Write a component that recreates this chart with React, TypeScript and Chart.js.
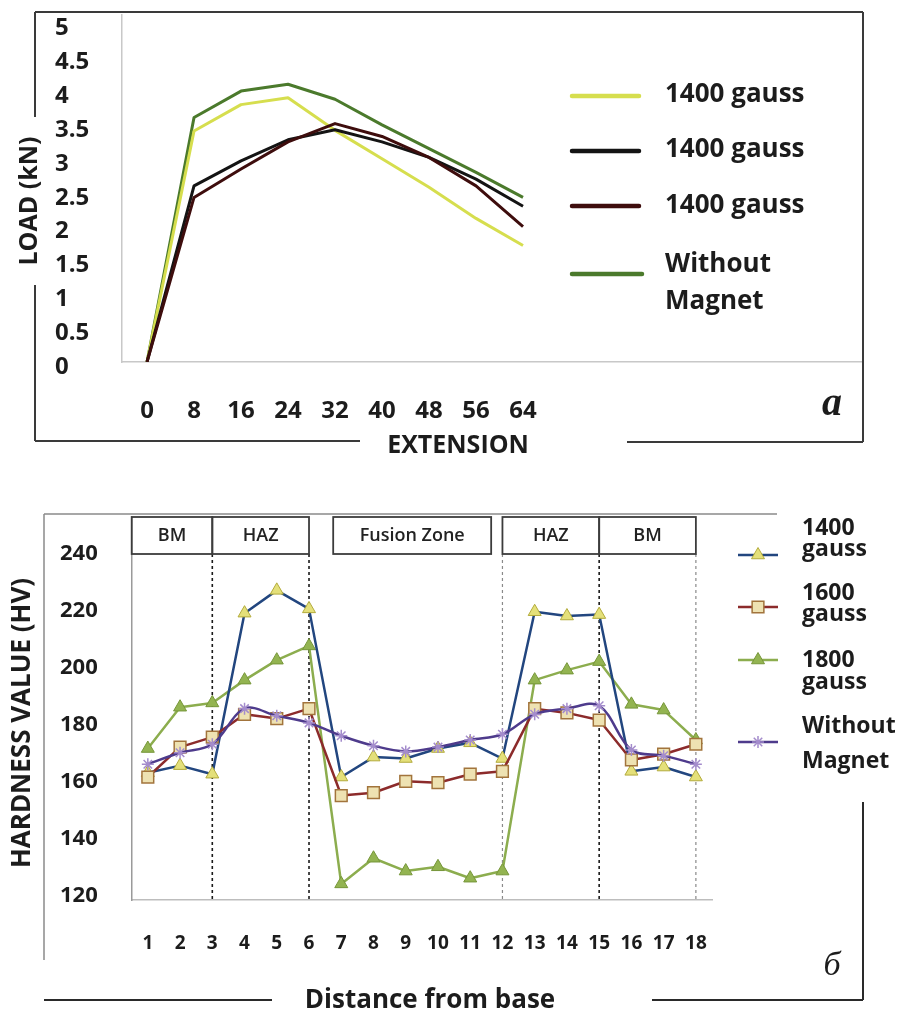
import React, { useEffect, useRef } from 'react';
import { Chart, registerables } from 'chart.js';

Chart.register(...registerables);

// ---------- Chart a : load vs extension ----------
const extension = [0, 8, 16, 24, 32, 40, 48, 56, 64];
const loadYellow = [0, 3.41, 3.8, 3.9, 3.42, 3.0, 2.58, 2.12, 1.72];
const loadBlack = [0, 2.6, 2.97, 3.28, 3.43, 3.25, 3.02, 2.7, 2.3];
const loadMaroon = [0, 2.43, 2.85, 3.25, 3.52, 3.33, 3.02, 2.6, 2.0];
const loadGreen = [0, 3.61, 4.0, 4.1, 3.88, 3.5, 3.15, 2.8, 2.43];
const loadTicks = [0, 0.5, 1, 1.5, 2, 2.5, 3, 3.5, 4, 4.5, 5];
const topLegend = [['1400 gauss'], ['1400 gauss'], ['1400 gauss'], ['Without', 'Magnet']];

// ---------- Chart б : hardness vs distance ----------
const positions = ['1', '2', '3', '4', '5', '6', '7', '8', '9', '10', '11', '12', '13', '14', '15', '16', '17', '18'];
const hv1400 = [163, 165.5, 162.5, 219, 227, 220.5, 161.5, 168.5, 168, 171.5, 173.5, 168, 219.5, 218, 218.5, 163.5, 165, 161.5];
const hv1600 = [161.5, 172, 175.5, 183.5, 182, 185.5, 155, 156, 160, 159.5, 162.5, 163.5, 185.5, 184, 181.5, 167.5, 169.5, 173];
const hv1800 = [171.5, 186, 187.5, 195.5, 202.5, 207.5, 124, 133, 128.5, 130, 126, 128.5, 195.5, 199, 202, 187, 185, 174.5];
const hvNone = [166, 170, 173, 185.5, 183, 180.5, 176, 172.5, 170.5, 172, 174.5, 176.5, 183.5, 185.5, 186.5, 171, 169, 166];
const hvTicks = [120, 140, 160, 180, 200, 220, 240];
const botLegend = [['1400', 'gauss'], ['1600', 'gauss'], ['1800', 'gauss'], ['Without', 'Magnet']];
const zoneNames = ['BM', 'HAZ', 'Fusion Zone', 'HAZ', 'BM'];
const zoneFrom = [0.5, 3, 6.75, 12, 15];
const zoneTo = [3, 6, 11.65, 15, 18];
const boundaryAt = [3, 6, 12, 15, 18];

const FONT = '"Open Sans", "DejaVu Sans", sans-serif';
const SERIF = '"Liberation Serif", "DejaVu Serif", serif';
const TEXT = '#1c1c1c';

const TOP_H = 470;
const BOT_OFF = 470;
const BOT_H = 539;

function line(ctx: CanvasRenderingContext2D, x0: number, y0: number, x1: number, y1: number) {
  ctx.beginPath();
  ctx.moveTo(x0, y0);
  ctx.lineTo(x1, y1);
  ctx.stroke();
}

function marker(ctx: CanvasRenderingContext2D, style: string, x: number, y: number, r: number, fill: string, stroke: string, lw: number) {
  ctx.save();
  ctx.fillStyle = fill;
  ctx.strokeStyle = stroke;
  ctx.lineWidth = lw;
  ctx.setLineDash([]);
  ctx.beginPath();
  if (style === 'triangle') {
    ctx.moveTo(x, y - r);
    ctx.lineTo(x + 0.866 * r, y + 0.5 * r);
    ctx.lineTo(x - 0.866 * r, y + 0.5 * r);
    ctx.closePath();
    ctx.fill();
    ctx.stroke();
  } else if (style === 'rect') {
    const s = r * Math.SQRT1_2;
    ctx.rect(x - s, y - s, 2 * s, 2 * s);
    ctx.fill();
    ctx.stroke();
  } else {
    const o = r * Math.SQRT1_2;
    ctx.moveTo(x - o, y - o); ctx.lineTo(x + o, y + o);
    ctx.moveTo(x + o, y - o); ctx.lineTo(x - o, y + o);
    ctx.moveTo(x, y - r); ctx.lineTo(x, y + r);
    ctx.moveTo(x - r, y); ctx.lineTo(x + r, y);
    ctx.stroke();
  }
  ctx.restore();
}

const topDecor = {
  id: 'topDecor',
  afterDraw(chart: any) {
    const ctx: CanvasRenderingContext2D = chart.ctx;
    ctx.save();
    // frame
    ctx.strokeStyle = '#3a3a3a';
    ctx.lineWidth = 2;
    line(ctx, 35, 12, 863, 12);
    line(ctx, 35, 12, 35, 117);
    line(ctx, 35, 285, 35, 441);
    line(ctx, 35, 441, 360, 441);
    line(ctx, 627, 442, 863, 442);
    line(ctx, 863, 12, 863, 442);
    // axis titles
    ctx.fillStyle = TEXT;
    ctx.font = `bold 25px ${FONT}`;
    ctx.textAlign = 'center';
    ctx.textBaseline = 'alphabetic';
    ctx.fillText('EXTENSION', 458, 453);
    ctx.save();
    ctx.translate(37, 201);
    ctx.rotate(-Math.PI / 2);
    ctx.fillText('LOAD (kN)', 0, 0);
    ctx.restore();
    // legend
    const sampleY = [96, 151, 206, 274];
    const textY = [[101.5], [156.5], [213], [271.5, 308.5]];
    ctx.font = `bold 26px ${FONT}`;
    ctx.textAlign = 'left';
    chart.data.datasets.forEach((ds: any, i: number) => {
      ctx.strokeStyle = ds.borderColor;
      ctx.lineWidth = 4.5;
      ctx.lineCap = 'round';
      line(ctx, 572, sampleY[i], i === 3 ? 642 : 639, sampleY[i]);
      ctx.fillStyle = TEXT;
      topLegend[i].forEach((t, k) => ctx.fillText(t, 665, textY[i][k]));
    });
    // panel letter
    ctx.font = `italic bold 40px ${SERIF}`;
    ctx.textAlign = 'center';
    ctx.fillText('a', 832, 415);
    ctx.restore();
  },
};

const botDecor = {
  id: 'botDecor',
  beforeDatasetsDraw(chart: any) {
    const ctx: CanvasRenderingContext2D = chart.ctx;
    const xs = chart.scales.x;
    const area = chart.chartArea;
    const boxTop = area.top;
    const boxBottom = area.top + 37;
    const dashColor = ['#1a1a1a', '#1a1a1a', '#8a8a8a', '#1a1a1a', '#8a8a8a'];
    const dashWidth = [1.6, 1.6, 1.2, 1.6, 1.2];
    ctx.save();
    boundaryAt.forEach((b, i) => {
      const px = xs.getPixelForValue(b - 1);
      ctx.strokeStyle = dashColor[i];
      ctx.lineWidth = dashWidth[i];
      ctx.setLineDash([3, 3]);
      line(ctx, px, boxBottom, px, area.bottom);
    });
    ctx.setLineDash([]);
    ctx.strokeStyle = '#3c3c3c';
    ctx.lineWidth = 1.8;
    ctx.font = `600 18px ${FONT}`;
    ctx.fillStyle = '#222222';
    ctx.textAlign = 'center';
    ctx.textBaseline = 'middle';
    zoneNames.forEach((name, i) => {
      const x0 = xs.getPixelForValue(zoneFrom[i] - 1);
      const x1 = xs.getPixelForValue(zoneTo[i] - 1);
      ctx.strokeRect(x0, boxTop, x1 - x0, boxBottom - boxTop);
      ctx.fillText(name, (x0 + x1) / 2, (boxTop + boxBottom) / 2);
    });
    ctx.restore();
  },
  afterDraw(chart: any) {
    const ctx: CanvasRenderingContext2D = chart.ctx;
    const o = BOT_OFF;
    ctx.save();
    // frame
    ctx.strokeStyle = '#8a8a8a';
    ctx.lineWidth = 1.5;
    line(ctx, 44, 514 - o, 777, 514 - o);
    line(ctx, 44, 514 - o, 44, 960 - o);
    ctx.strokeStyle = '#2a2a2a';
    ctx.lineWidth = 2;
    line(ctx, 44, 1000 - o, 272, 1000 - o);
    line(ctx, 652, 1000 - o, 863, 1000 - o);
    line(ctx, 863, 802 - o, 863, 1000 - o);
    // titles
    ctx.fillStyle = TEXT;
    ctx.font = `bold 26px ${FONT}`;
    ctx.textAlign = 'center';
    ctx.textBaseline = 'alphabetic';
    ctx.fillText('Distance from base', 430, 1008 - o);
    ctx.save();
    ctx.translate(30, 723 - o);
    ctx.rotate(-Math.PI / 2);
    ctx.fillText('HARDNESS VALUE (HV)', 0, 0);
    ctx.restore();
    // legend
    const markY = [555, 607, 660, 742];
    const textY = [[535, 556], [600, 621], [667, 689], [733, 768]];
    ctx.font = `bold 23px ${FONT}`;
    ctx.textAlign = 'left';
    chart.data.datasets.forEach((ds: any, i: number) => {
      const y = markY[i] - o;
      ctx.strokeStyle = ds.borderColor;
      ctx.lineWidth = 2.5;
      line(ctx, 738, y, 778, y);
      marker(ctx, ds.pointStyle, 758, y, ds.pointRadius, ds.pointBackgroundColor, ds.pointBorderColor, ds.pointBorderWidth);
      ctx.fillStyle = TEXT;
      botLegend[i].forEach((t, k) => ctx.fillText(t, 802, textY[i][k] - o));
    });
    ctx.font = `italic 34px ${SERIF}`;
    ctx.textAlign = 'center';
    ctx.fillText('б', 832, 975 - o);
    ctx.restore();
  },
};

function xy(values: number[]) {
  return extension.map((x, i) => ({ x, y: values[i] }));
}

export default function App() {
  const topRef = useRef<HTMLCanvasElement>(null);
  const botRef = useRef<HTMLCanvasElement>(null);

  useEffect(() => {
    const tickFontTop = { family: FONT, size: 24, weight: 'bold' as const };
    const c1 = new Chart(topRef.current as HTMLCanvasElement, {
      type: 'line',
      data: {
        datasets: [
          { label: '1400 gauss', data: xy(loadYellow), borderColor: '#d6de4e', order: 2 },
          { label: '1400 gauss', data: xy(loadBlack), borderColor: '#141414', order: 1 },
          { label: '1400 gauss', data: xy(loadMaroon), borderColor: '#3e0d0d', order: 0 },
          { label: 'Without Magnet', data: xy(loadGreen), borderColor: '#4b7a2c', order: 3 },
        ].map((d) => ({ ...d, borderWidth: 3, pointRadius: 0, tension: 0, borderJoinStyle: 'round' as const, fill: false })),
      },
      options: {
        responsive: false,
        maintainAspectRatio: false,
        animation: false,
        events: [],
        layout: { autoPadding: false, padding: { left: 55, right: 42, top: 13, bottom: 0 } },
        plugins: { legend: { display: false }, tooltip: { enabled: false } },
        scales: {
          x: {
            type: 'linear',
            bounds: 'data',
            min: -4.31,
            max: 121.7,
            grid: { display: false },
            border: { display: true, color: '#c8c8c8', width: 1.5 },
            afterBuildTicks: (s: any) => { s.ticks = extension.map((v) => ({ value: v })); },
            afterFit: (s: any) => { s.height = TOP_H - 362; },
            ticks: { padding: 27, color: TEXT, font: tickFontTop, autoSkip: false, maxRotation: 0, callback: (v: any) => String(v) },
          },
          y: {
            type: 'linear',
            bounds: 'data',
            min: 0,
            max: 5.132,
            grid: { display: false },
            border: { display: true, color: '#c8c8c8', width: 1.5 },
            afterBuildTicks: (s: any) => { s.ticks = loadTicks.map((v) => ({ value: v })); },
            afterFit: (s: any) => { s.width = 121.7 - 55; },
            ticks: { crossAlign: 'far', labelOffset: 5, padding: 0, color: TEXT, font: tickFontTop, autoSkip: false, callback: (v: any) => String(v) },
          },
        },
      },
      plugins: [topDecor],
    } as any);

    const c2 = new Chart(botRef.current as HTMLCanvasElement, {
      type: 'line',
      data: {
        labels: positions,
        datasets: [
          {
            label: '1400 gauss', data: hv1400, borderColor: '#22467f', pointStyle: 'triangle', pointRadius: 7.5,
            pointBackgroundColor: '#e4e07a', pointBorderColor: '#b3ab3c', pointBorderWidth: 1, order: 2, tension: 0,
          },
          {
            label: '1600 gauss', data: hv1600, borderColor: '#8c2b2b', pointStyle: 'rect', pointRadius: 8.3,
            pointBackgroundColor: '#eee2b2', pointBorderColor: '#a2743c', pointBorderWidth: 1.5, order: 1, tension: 0,
          },
          {
            label: '1800 gauss', data: hv1800, borderColor: '#8cad4e', pointStyle: 'triangle', pointRadius: 7.5,
            pointBackgroundColor: '#93b451', pointBorderColor: '#769639', pointBorderWidth: 1, order: 3, tension: 0,
          },
          {
            label: 'Without Magnet', data: hvNone, borderColor: '#4e3b8c', pointStyle: 'star', pointRadius: 6,
            pointBackgroundColor: '#a48ccc', pointBorderColor: '#a48ccc', pointBorderWidth: 1.5, order: 0, tension: 0.35,
          },
        ].map((d) => ({ ...d, borderWidth: 2.5, fill: false, borderJoinStyle: 'round' as const })),
      },
      options: {
        responsive: false,
        maintainAspectRatio: false,
        animation: false,
        events: [],
        layout: { autoPadding: false, padding: { left: 60, right: 904 - 712, top: 517 - BOT_OFF, bottom: 0 } },
        plugins: { legend: { display: false }, tooltip: { enabled: false } },
        scales: {
          x: {
            type: 'category',
            offset: true,
            grid: { display: false },
            border: { display: true, color: '#bdbdbd', width: 1.5 },
            afterFit: (s: any) => { s.height = BOT_H - (900 - BOT_OFF); },
            ticks: { padding: 24, color: TEXT, font: { family: FONT, size: 19, weight: 'bold' }, autoSkip: false, maxRotation: 0 },
          },
          y: {
            type: 'linear',
            bounds: 'data',
            min: 118.35,
            max: 252.74,
            grid: { display: false },
            border: { display: true, color: '#9a9a9a', width: 1.5 },
            afterBuildTicks: (s: any) => { s.ticks = hvTicks.map((v) => ({ value: v })); },
            afterFit: (s: any) => { s.width = 131.7 - 60; },
            ticks: { crossAlign: 'far', padding: 0, color: TEXT, font: { family: FONT, size: 22, weight: 'bold' }, autoSkip: false, callback: (v: any) => String(v) },
          },
        },
      },
      plugins: [botDecor],
    } as any);

    return () => {
      c1.destroy();
      c2.destroy();
    };
  }, []);

  return (
    <div style={{ position: 'absolute', left: 0, top: 0, width: 904, height: 1009, background: '#ffffff', overflow: 'hidden' }}>
      <canvas ref={topRef} width={904} height={TOP_H} style={{ position: 'absolute', left: 0, top: 0, width: 904, height: TOP_H, display: 'block' }} />
      <canvas ref={botRef} width={904} height={BOT_H} style={{ position: 'absolute', left: 0, top: BOT_OFF, width: 904, height: BOT_H, display: 'block' }} />
    </div>
  );
}
